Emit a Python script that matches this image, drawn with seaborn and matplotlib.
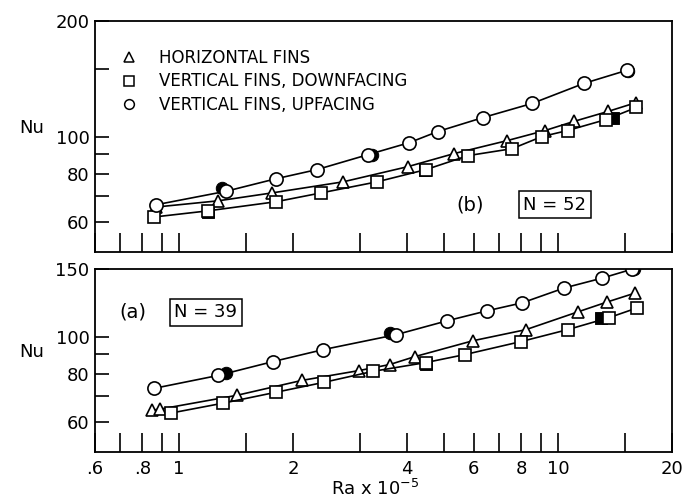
import matplotlib
matplotlib.use("Agg")
import matplotlib.pyplot as plt
from matplotlib.lines import Line2D
from matplotlib.ticker import FixedLocator, NullLocator, FixedFormatter
import seaborn as sns

# ---- data (Ra x 1e-5 , Nu) ----
# panel (b), N = 52
b_horiz_ra = [0.87, 1.27, 1.76, 2.71, 4.02, 5.32, 7.34, 9.24, 11.0, 13.55, 16.1]
b_horiz_nu = [65.5, 68.0, 71.3, 76.2, 83.5, 90.3, 97.6, 103.7, 109.5, 116.3, 122.7]
b_down_ra = [0.86, 1.19, 1.80, 2.37, 3.33, 4.48, 5.79, 7.57, 9.07, 10.6, 13.4, 16.1]
b_down_nu = [61.7, 64.0, 67.6, 71.3, 76.2, 82.0, 89.2, 93.0, 100.0, 103.7, 110.8, 119.1]
b_up_ra = [0.87, 1.33, 1.80, 2.31, 3.15, 4.05, 4.82, 6.34, 8.54, 11.7, 15.2]
b_up_nu = [66.4, 72.0, 77.6, 82.0, 89.7, 96.4, 103.1, 112.1, 122.0, 137.6, 148.9]
b_fill_circ_ra = [1.30, 3.23, 15.3]
b_fill_circ_nu = [73.3, 89.7, 148.5]
b_fill_sq_ra = [1.19, 4.45, 13.97]
b_fill_sq_nu = [63.6, 81.6, 111.5]

# panel (a), N = 39
a_horiz_ra = [0.848, 0.89, 1.42, 2.11, 2.99, 3.60, 4.19, 5.97, 8.23, 11.3, 13.5, 16.0]
a_horiz_nu = [64.3, 64.7, 70.3, 76.9, 81.6, 84.6, 88.7, 97.6, 104.3, 116.1, 123.2, 130.0]
a_down_ra = [0.952, 1.31, 1.80, 2.41, 3.25, 4.48, 5.68, 7.99, 10.6, 13.6, 16.2]
a_down_nu = [63.2, 67.1, 71.6, 76.0, 81.2, 85.6, 89.8, 97.1, 104.3, 112.0, 118.9]
a_up_ra = [0.859, 1.267, 1.77, 2.40, 3.74, 5.10, 6.50, 8.04, 10.4, 13.1, 15.7]
a_up_nu = [73.3, 79.2, 86.1, 92.5, 101.2, 110.0, 116.8, 122.5, 134.0, 142.2, 150.0]
a_fill_circ_ra = [1.33, 3.60, 15.9]
a_fill_circ_nu = [80.6, 102.4, 150.0]
a_fill_sq_ra = [4.48, 13.0]
a_fill_sq_nu = [85.0, 112.0]

x_ticks = [0.6, 0.7, 0.8, 0.9, 1, 1.5, 2, 3, 4, 5, 6, 7, 8, 9, 10, 15, 20]
x_labels = [".6", "", ".8", "", "1", "", "2", "", "4", "", "6", "", "8", "", "10", "", "20"]
b_y_ticks = [60, 70, 80, 90, 100, 150, 200]
b_y_labels = ["60", "", "80", "", "100", "", "200"]
a_y_ticks = [60, 70, 80, 90, 100, 150]
a_y_labels = ["60", "", "80", "", "100", "150"]

sns.set_style("ticks")
plt.rcParams["font.family"] = ["DejaVu Sans"]
plt.rcParams["axes.linewidth"] = 1.3
for k in ["text.color", "axes.labelcolor", "xtick.color", "ytick.color", "axes.edgecolor"]:
    plt.rcParams[k] = "black"

fig = plt.figure(figsize=(6.83, 5.04), dpi=100)
ax_b = fig.add_axes([0.139, 0.5, 0.845, 0.458])
ax_a = fig.add_axes([0.139, 0.103, 0.845, 0.363])

line_kw = dict(color="black", linewidth=1.2, estimator=None, sort=False,
               markerfacecolor="white", markeredgecolor="black", markeredgewidth=1.2)


def draw_panel(ax, hr, hn, dr, dn, ur, un, fcr, fcn, fsr, fsn):
    sns.lineplot(x=hr, y=hn, ax=ax, marker="^", markersize=9, **line_kw)
    sns.lineplot(x=dr, y=dn, ax=ax, marker="s", markersize=8.5, **line_kw)
    sns.lineplot(x=ur, y=un, ax=ax, marker="o", markersize=9.5, **line_kw)
    sns.scatterplot(x=fcr, y=fcn, ax=ax, marker="o", s=80, color="black",
                    edgecolor="black", zorder=1)
    sns.scatterplot(x=fsr, y=fsn, ax=ax, marker="s", s=65, color="black",
                    edgecolor="black", zorder=1)


draw_panel(ax_b, b_horiz_ra, b_horiz_nu, b_down_ra, b_down_nu, b_up_ra, b_up_nu,
           b_fill_circ_ra, b_fill_circ_nu, b_fill_sq_ra, b_fill_sq_nu)
draw_panel(ax_a, a_horiz_ra, a_horiz_nu, a_down_ra, a_down_nu, a_up_ra, a_up_nu,
           a_fill_circ_ra, a_fill_circ_nu, a_fill_sq_ra, a_fill_sq_nu)

for ax, yt, yl, ylim in [(ax_b, b_y_ticks, b_y_labels, (50, 200)),
                         (ax_a, a_y_ticks, a_y_labels, (50, 150))]:
    ax.set_xscale("log")
    ax.set_yscale("log")
    ax.set_xlim(0.6, 20)
    ax.set_ylim(*ylim)
    ax.xaxis.set_major_locator(FixedLocator(x_ticks))
    ax.xaxis.set_minor_locator(NullLocator())
    ax.yaxis.set_major_locator(FixedLocator(yt))
    ax.yaxis.set_minor_locator(NullLocator())
    ax.yaxis.set_major_formatter(FixedFormatter(yl))
    ax.tick_params(axis="x", direction="in", length=14, width=1.2, labelsize=13, pad=6,
                   colors="black")
    ax.tick_params(axis="y", direction="in", length=10, width=1.2, labelsize=13, pad=4,
                   colors="black")
    ax.set_xlabel("")
    ax.set_ylabel("")
    for s in ax.spines.values():
        s.set_visible(True)
        s.set_color("black")

ax_b.xaxis.set_major_formatter(FixedFormatter([""] * len(x_ticks)))
ax_a.xaxis.set_major_formatter(FixedFormatter(x_labels))

handles = [
    Line2D([], [], ls="none", marker="^", ms=7, mfc="white", mec="black", mew=1.1),
    Line2D([], [], ls="none", marker="s", ms=6.5, mfc="white", mec="black", mew=1.1),
    Line2D([], [], ls="none", marker="o", ms=7, mfc="white", mec="black", mew=1.1),
]
ax_b.legend(handles, ["HORIZONTAL FINS", "VERTICAL FINS, DOWNFACING",
                      "VERTICAL FINS, UPFACING"],
            loc="upper left", bbox_to_anchor=(0.025, 0.93), frameon=False,
            fontsize=12, handlelength=1.0, handletextpad=1.3, labelspacing=0.33,
            borderpad=0.2, labelcolor="black")

box = dict(boxstyle="square,pad=0.25", fc="white", ec="black", lw=1.1)
ax_b.text(0.65, 0.205, "(b)", transform=ax_b.transAxes, fontsize=14,
          ha="center", va="center")
ax_b.text(0.797, 0.205, "N = 52", transform=ax_b.transAxes, fontsize=13,
          ha="center", va="center", bbox=box)
ax_a.text(0.066, 0.765, "(a)", transform=ax_a.transAxes, fontsize=14,
          ha="center", va="center")
ax_a.text(0.192, 0.765, "N = 39", transform=ax_a.transAxes, fontsize=13,
          ha="center", va="center", bbox=box)

fig.text(0.046, 0.746, "Nu", fontsize=13, ha="center", va="center")
fig.text(0.046, 0.302, "Nu", fontsize=13, ha="center", va="center")
fig.text(0.549, 0.03, r"Ra x 10$^{-5}$", fontsize=13, ha="center", va="center")

fig.savefig("out.png", dpi=100)
